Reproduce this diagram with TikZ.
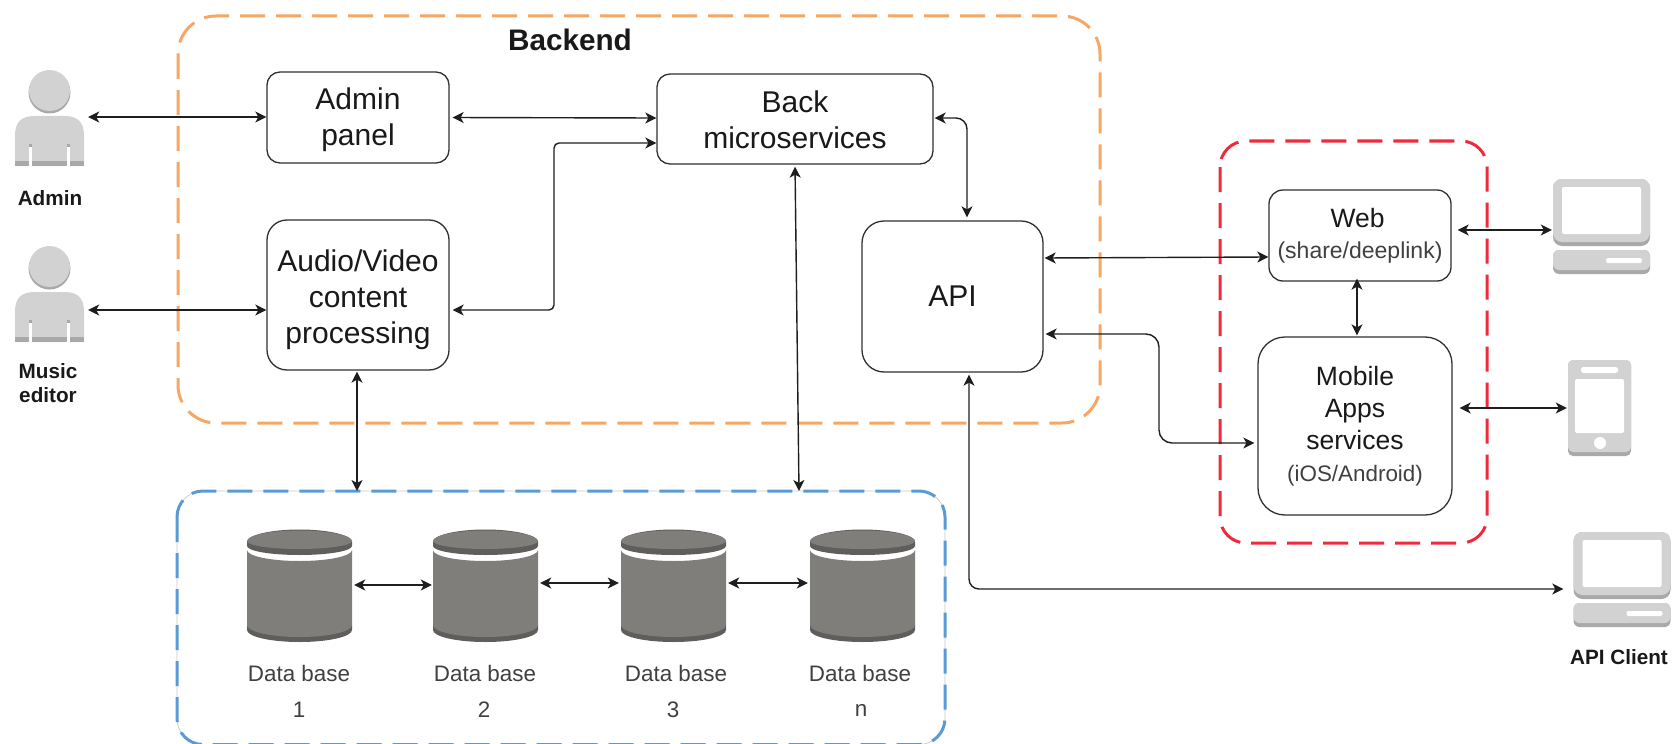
\documentclass[tikz,border=0pt]{standalone}
\usepackage{fontspec}
\setmainfont{Liberation Sans}
\usetikzlibrary{arrows.meta}
\definecolor{icolight}{HTML}{D2D2D2}
\definecolor{icodark}{HTML}{A9A9A9}
\definecolor{dbmain}{HTML}{7F7E7B}
\definecolor{dbdark}{HTML}{5F5E5C}
\definecolor{lineink}{HTML}{1E1E1E}
\definecolor{boxink}{HTML}{303030}
\definecolor{groupo}{HTML}{F5A763}
\definecolor{groupb}{HTML}{5B9BD5}
\definecolor{groupr}{HTML}{EE2A3C}
\tikzset{
  boxnode/.style={draw=boxink,line width=1.3pt,fill=white,align=center,inner sep=0pt,text=black!90},
  bigtext/.style={font=\fontsize{30}{36}\selectfont},
  midtext/.style={font=\fontsize{26.5}{32}\selectfont},
  boldlabel/.style={font=\bfseries\fontsize{20.7}{24}\selectfont,align=center,inner sep=0pt,text=black!90},
  dblabel/.style={font=\fontsize{22.4}{26}\selectfont,inner sep=0pt,text=black!75},
  groupbox/.style={line width=3pt,rounded corners=#1,dash pattern=on 25pt off 11pt},
  arr/.style={{Stealth[length=11pt,width=11pt,inset=3pt]}-{Stealth[length=11pt,width=11pt,inset=3pt]},line width=1.4pt,draw=lineink},
  icon/.style={inner sep=0pt,minimum width=#1,draw=none}
}
\newcommand{\personicon}[2]{%
  \begin{scope}[shift={(#1,#2)}]
    \fill[icolight] (0,50) -- (0,20) .. controls (0,6) and (6,0) .. (20,0) -- (49,0) .. controls (63,0) and (69,6) .. (69,20) -- (69,50) -- cycle;
    \fill[icodark] (0,45) rectangle (69,50);
    \fill[white] (14,31) rectangle (17,50);
    \fill[white] (52,31) rectangle (55,50);
    \fill[icodark] (14,28) rectangle (17,31);
    \fill[icodark] (52,28) rectangle (55,31);
    \fill[icodark] (34.5,-23.5) circle[radius=21pt];
    \fill[icolight] (34.5,-25.5) circle[radius=20.5pt];
  \end{scope}}
\newcommand{\pcicon}[2]{%
  \begin{scope}[shift={(#1,#2)}]
    \fill[icodark,rounded corners=9pt] (0,0) rectangle (97,67);
    \fill[icolight,rounded corners=9pt] (0,0) rectangle (97,63);
    \fill[white,rounded corners=2pt] (9,8) rectangle (88,55);
    \fill[icodark,rounded corners=6pt] (0,71) rectangle (97,95);
    \fill[icolight,rounded corners=6pt] (0,71) rectangle (97,91);
    \fill[white,rounded corners=2pt] (53,79) rectangle (89,84);
  \end{scope}}
\newcommand{\dbicon}[1]{%
  \begin{scope}[shift={(#1,0)}]
    \fill[dbdark] (0,542) arc[start angle=180,end angle=0,x radius=52.5pt,y radius=12.5pt] -- (105,546) arc[start angle=360,end angle=180,x radius=52.5pt,y radius=9pt] -- cycle;
    \fill[dbmain] (0,541) arc[start angle=180,end angle=0,x radius=52.5pt,y radius=10.5pt] arc[start angle=360,end angle=180,x radius=52.5pt,y radius=8pt];
    \fill[dbdark] (0,625) -- (105,625) -- (105,630) arc[start angle=0,end angle=-180,x radius=52.5pt,y radius=12pt] -- cycle;
    \fill[dbmain] (0,550) arc[start angle=180,end angle=360,x radius=52.5pt,y radius=11pt] -- (105,625) arc[start angle=0,end angle=-180,x radius=52.5pt,y radius=12pt] -- cycle;
  \end{scope}}
\begin{document}
\begin{tikzpicture}[x=1pt,y=-1pt]
\useasboundingbox (0,0) rectangle (1675,743.5);
% dashed groups
\draw[groupo,groupbox=38pt] (178,16) rectangle (1100,423);
\draw[black!22,line width=0.7pt,rounded corners=26pt] (177,491) rectangle (945,744.5);
\draw[groupb,groupbox=26pt] (177,491) rectangle (945,744.5);
\draw[groupr,groupbox=26pt] (1220,141) rectangle (1487,543);
% text title
\node[font=\bfseries\fontsize{29.7}{34}\selectfont,inner sep=0pt,text=black!90] (title) at (570,40) {Backend};
% boxes
\node[boxnode,bigtext,minimum width=182pt,minimum height=91pt,rounded corners=13pt] (panel) at (358,117.5) {\rule{0pt}{27pt}Admin\\panel};
\node[boxnode,bigtext,minimum width=182pt,minimum height=150pt,rounded corners=20pt] (audio) at (358,295) {\rule{0pt}{32pt}Audio/Video\\content\\processing};
\node[boxnode,bigtext,minimum width=276pt,minimum height=90pt,rounded corners=13pt] (back) at (795,119) {\rule{0pt}{24pt}Back\\microservices};
\node[boxnode,bigtext,minimum width=181pt,minimum height=151pt,rounded corners=22pt] (api) at (952.5,296.5) {API};
\node[boxnode,midtext,minimum width=182pt,minimum height=91pt,rounded corners=14pt] (web) at (1360,235.5) {\hspace*{-5pt}Web\\[-1pt]{\fontsize{23}{26}\selectfont\color{black!75}(share/deeplink)}};
\node[boxnode,midtext,minimum width=194pt,minimum height=178pt,rounded corners=27pt] (mobile) at (1355,426) {Mobile\\Apps\\services\\{\fontsize{22.4}{26}\selectfont\color{black!75}(iOS/Android)}};
% icons
\personicon{15}{116}
\personicon{15}{292}
\pcicon{1553}{179}
\pcicon{1573.5}{532}
\begin{scope}
  \fill[icodark,rounded corners=5pt] (1568,360) rectangle (1631,456);
  \fill[icolight,rounded corners=5pt] (1568,360) rectangle (1631,452);
  \fill[white,rounded corners=2pt] (1575,379) rectangle (1624,433);
  \fill[white,rounded corners=2.5pt] (1581,367) rectangle (1618,373);
  \fill[white] (1600,443) circle[radius=6pt];
\end{scope}
\dbicon{247}
\dbicon{433}
\dbicon{621}
\dbicon{810}
% icon anchor nodes
\node[icon=69pt,minimum height=100pt] (admin) at (49.5,117) {};
\node[icon=69pt,minimum height=100pt] (editor) at (49.5,310) {};
\node[icon=97pt,minimum height=95pt] (pcweb) at (1601.5,230) {};
\node[icon=97pt,minimum height=95pt] (pcapi) at (1620,589) {};
\node[icon=63pt,minimum height=96pt] (phone) at (1599.5,408) {};
\node[icon=105pt,minimum height=112pt] (db1) at (299.5,585) {};
\node[icon=105pt,minimum height=112pt] (db2) at (485.5,585) {};
\node[icon=105pt,minimum height=112pt] (db3) at (673.5,585) {};
\node[icon=105pt,minimum height=112pt] (db4) at (862.5,585) {};
\coordinate (bluetopa) at (357,491);
\coordinate (bluetopb) at (799,491);
\coordinate (b1) at (554,310);
\coordinate (b2) at (554,143);
\coordinate (m1) at (1159,334);
\coordinate (m2) at (1159,443);
\coordinate (c1) at (969,589);
% labels
\node[boldlabel] (ladmin) at (50,198) {Admin};
\node[boldlabel] (leditor) at (48,383) {Music\\editor};
\node[boldlabel] (lapi) at (1619,657) {API Client};
\node[dblabel] (d1) at (299,673) {Data base};
\node[dblabel] (d2) at (485,673) {Data base};
\node[dblabel] (d3) at (676,673) {Data base};
\node[dblabel] (d4) at (860,673) {Data base};
\node[dblabel] (n1) at (299,710) {1};
\node[dblabel] (n2) at (484,710) {2};
\node[dblabel] (n3) at (673,710) {3};
\node[dblabel] (n4) at (861,710) {n};
% connectors
\draw[arr,shorten <=4pt] (admin.east) -- (admin.east -| panel.west);
\draw[arr,shorten <=4pt] (editor.east) -- (editor.east -| audio.west);
\draw[arr,shorten <=3pt] (panel.east) -- ([yshift=1pt]back.west);
\draw[arr,shorten <=3pt,rounded corners=5pt] ([yshift=-15pt]audio.east) -- (b1) -- (b2) -- ([yshift=-24pt]back.west);
\draw[arr,shorten <=1pt,shorten >=3pt,rounded corners=11pt] ([yshift=1pt]back.east) -| ([xshift=14.5pt]api.north);
\draw[arr,shorten <=2pt] (back.south) -- (bluetopb);
\draw[arr,shorten <=1pt] (audio.south) ++(-1pt,0) -- (bluetopa);
\draw[arr,shorten <=1pt] ([yshift=38.5pt]api.east) -- ([yshift=-21.5pt]web.west);
\draw[arr,shorten <=2pt,rounded corners=13pt] ([yshift=-37.5pt]api.east) -- (m1) -- (m2) -- ([xshift=-3pt,yshift=-17pt]mobile.west);
\draw[arr,shorten <=2pt,rounded corners=10pt] ([xshift=16.5pt]api.south) -- (c1) -- ([xshift=-8pt]pcapi.west);
\draw[arr,shorten <=-3pt,shorten >=1pt] ([xshift=-3pt]web.south) -- ([xshift=2pt]mobile.north);
\draw[arr,shorten <=6pt,shorten >=1pt] ([yshift=5.5pt]web.east) -- (pcweb.west);
\draw[arr,shorten <=7pt,shorten >=1pt] ([yshift=18pt]mobile.east) -- (phone.west);
\draw[arr,shorten <=2pt,shorten >=1pt] (db1.east) -- (db2.west);
\draw[arr,shorten <=2pt,shorten >=2pt] ([yshift=2pt]db2.east) -- ([yshift=2pt]db3.west);
\draw[arr,shorten <=2pt,shorten >=2pt] ([yshift=2pt]db3.east) -- ([yshift=2pt]db4.west);
\end{tikzpicture}
\end{document}
